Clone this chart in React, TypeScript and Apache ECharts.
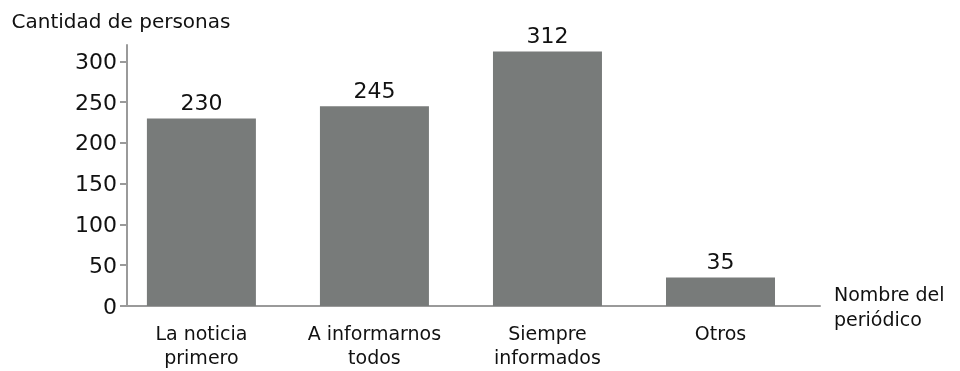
import React, { useEffect, useRef } from "react";
import * as echarts from "echarts";

const categories = ["La noticia\nprimero", "A informarnos\ntodos", "Siempre\ninformados", "Otros"];
const people = [230, 245, 312, 35];
const yTicks = [0, 50, 100, 150, 200, 250, 300];
const positions = [0, 1, 2, 3];

export default function App() {
  const ref = useRef<HTMLDivElement>(null);

  useEffect(() => {
    document.body.style.margin = "0";
    const chart = echarts.init(ref.current!, null, { renderer: "svg" });
    const font = "DejaVu Sans";
    const ink = "#111111";
    chart.setOption({
      animation: false,
      grid: { left: 127, right: 140, top: 45, bottom: 65 },
      xAxis: {
        type: "value",
        min: -0.43,
        max: 3.575,
        name: "Nombre del\nperiódico",
        nameLocation: "end",
        nameGap: 14,
        nameTextStyle: { fontFamily: font, fontSize: 19, color: ink, lineHeight: 25, align: "left" },
        axisLine: { show: true, onZero: false, lineStyle: { color: "#9a9a9a", width: 2 } },
        axisTick: { show: false },
        splitLine: { show: false },
        axisLabel: {
          customValues: positions,
          formatter: (v: number) => categories[Math.round(v)] ?? "",
          fontFamily: font,
          fontSize: 19,
          lineHeight: 24,
          color: ink,
          margin: 15,
        },
      },
      yAxis: {
        type: "value",
        min: 0,
        max: 320,
        name: "Cantidad de personas",
        nameLocation: "end",
        nameGap: 14,
        nameTextStyle: { fontFamily: font, fontSize: 20, color: ink, padding: [0, 12, 0, 0] },
        axisLine: { show: true, onZero: false, lineStyle: { color: "#9a9a9a", width: 2 } },
        axisTick: { show: true, customValues: yTicks, length: 7, lineStyle: { color: "#9a9a9a", width: 2 } },
        splitLine: { show: false },
        axisLabel: {
          customValues: yTicks,
          fontFamily: font,
          fontSize: 22,
          color: ink,
          margin: 10,
        },
      },
      series: [
        {
          type: "bar",
          barWidth: 109,
          data: positions.map((p, i) => [p, people[i]]),
          itemStyle: { color: "#787b7a" },
          label: {
            show: true,
            position: "top",
            distance: 5,
            formatter: (p: any) => String(p.value[1]),
            fontFamily: font,
            fontSize: 22,
            color: ink,
          },
        },
      ],
    });
    return () => chart.dispose();
  }, []);

  return <div ref={ref} style={{ position: "fixed", left: 0, top: 0, width: 960, height: 371 }} />;
}
